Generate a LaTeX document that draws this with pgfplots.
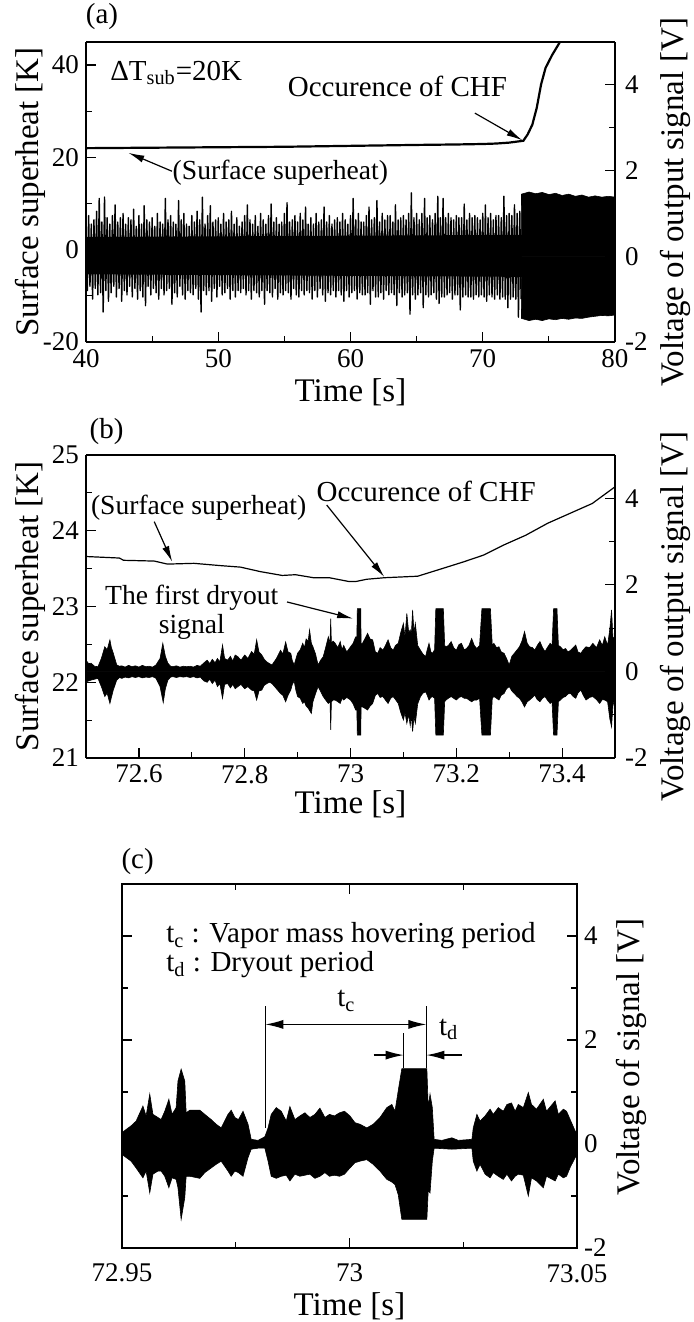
\documentclass[border=0pt]{standalone}
\usepackage{fontspec}
\setmainfont{Liberation Serif}
\usepackage{pgfplots}
\pgfplotsset{compat=1.18}
\usetikzlibrary{arrows.meta}

\newcommand{\ticksz}{\fontsize{13.5}{15}\selectfont}
\newcommand{\labsz}{\fontsize{16.5}{19}\selectfont}
\newcommand{\ann}{\fontsize{14.5}{16}\selectfont}
\newcommand{\annsm}{\fontsize{13.8}{14.5}\selectfont}

\pgfplotsset{
  base/.style={
    scale only axis,
    tick align=inside,
    major tick length=5pt,
    minor tick length=3pt,
    axis line style={line width=0.6pt},
    tick style={line width=0.6pt, black},
    tick label style={font=\ticksz},
    label style={font=\labsz},
    /pgf/number format/assume math mode=true,
    /pgf/number format/fixed,
    /pgf/number format/precision=2,
    scaled ticks=false,
  },
  sig/.style={black, fill=black, line width=0.3pt},
}
\tikzset{arr/.style={line width=0.6pt, -{Latex[length=8pt,width=3.6pt]}}}

\begin{document}
\begin{tikzpicture}
\useasboundingbox (0,0) rectangle (347pt,-661pt);

\node[font=\ann] at (51pt,-8.5pt) {(a)};
\node[font=\ann] at (53.3pt,-216pt) {(b)};
\node[font=\ann] at (68.8pt,-430.8pt) {(c)};

% ---------------- (a) surface superheat, left axis
\begin{axis}[base, at={(43pt,-171pt)}, anchor=south west,
  width=264.5pt, height=150pt,
  xmin=40, xmax=80, ymin=-20, ymax=45,
  axis y line*=left, xtick pos=left,
  xtick={40,50,...,80}, minor xtick={45,55,65,75},
  ytick={-20,0,20,40}, minor ytick={-10,10,30},
  xlabel={Time [s]}, ylabel={Surface superheat [K]},
  xlabel style={at={([yshift=-25pt]axis description cs:0.5,0)}, anchor=center},
  ylabel style={at={([xshift=-28pt]axis description cs:0,0.5)}, anchor=center},
]
\addplot[black, line width=1.1pt] coordinates {
 (40,22.0) (45,22.1) (50,22.2) (55,22.3) (60,22.5) (65,22.7) (68,22.8)
 (70,22.9) (71,23.0) (72,23.2) (73.07,23.6) (73.4,25.0) (73.75,27.1)
 (74.08,30.7) (74.41,35.8) (74.75,39.4) (75.25,42.2) (75.9,45.3) (76.3,46.5)};
\node[font=\ann, anchor=west] at (axis cs:41.3,38.3) {ΔT\textsubscript{sub}=20K};
\node[font=\ann] at (axis cs:63.55,35.4) {Occurence of CHF};
\draw[arr] (axis cs:69.4,29.6) -- (axis cs:73.0,23.7);
\node[font=\annsm] at (axis cs:54.7,16.7) {(Surface superheat)};
\draw[arr] (axis cs:46.5,17.0) -- (axis cs:43.2,21.0);
\end{axis}

% ---------------- (a) output signal, right axis
\begin{axis}[base, at={(43pt,-171pt)}, anchor=south west,
  width=264.5pt, height=150pt,
  xmin=40, xmax=80, ymin=-2, ymax=5,
  axis x line=none, axis y line*=right,
  ytick={-2,0,2,4}, minor ytick={-1,1,3},
  yticklabel style={xshift=1.5pt},
  ylabel={Voltage of output signal [V]},
  ylabel style={at={([xshift=30pt,yshift=-5pt]axis description cs:1,0.5)}, anchor=center},
]
% solid core of the signal before CHF
\addplot[fill=black, draw=none] coordinates {(40,0.45) (72.95,0.50)} \closedcycle;
\addplot[fill=black, draw=none] coordinates {(40,-0.42) (72.95,-0.48)} \closedcycle;
% signal before CHF
\addplot[black, line width=0.7pt, line join=round] coordinates {
 (40.0,0.55)(40.1,-0.80)(40.2,0.95)(40.3,-0.70)(40.4,0.75)(40.5,-1.00)(40.6,0.85)(40.7,-0.75)(40.8,1.05)(40.9,-0.90)
 (41.0,1.35)(41.1,-0.85)(41.2,0.80)(41.3,-1.30)(41.4,1.38)(41.5,-0.80)(41.6,0.90)(41.7,-1.05)(41.8,0.75)(41.9,-0.85)
 (42.0,0.95)(42.1,-0.70)(42.2,1.20)(42.3,-0.95)(42.4,0.80)(42.5,-0.75)(42.6,0.90)(42.7,-1.05)(42.8,1.00)(42.9,-0.80)
 (43.0,0.75)(43.1,-0.90)(43.2,0.90)(43.3,-0.70)(43.4,0.85)(43.5,-0.95)(43.6,1.10)(43.7,-0.75)(43.8,0.70)(43.9,-1.00)
 (44.0,0.95)(44.1,-0.80)(44.2,0.75)(44.3,-0.95)(44.4,1.18)(44.5,-1.15)(44.6,0.85)(44.7,-0.70)(44.8,0.80)(44.9,-0.90)
 (45.0,0.90)(45.1,-0.75)(45.2,0.70)(45.3,-0.85)(45.4,1.00)(45.5,-1.00)(45.6,0.80)(45.7,-0.75)(45.8,0.75)(45.9,-0.90)
 (46.0,1.35)(46.1,-0.80)(46.2,0.85)(46.3,-0.75)(46.4,0.95)(46.5,-1.12)(46.6,0.80)(46.7,-0.85)(46.8,0.75)(46.9,-0.95)
 (47.0,1.30)(47.1,-0.70)(47.2,0.85)(47.3,-0.90)(47.4,1.00)(47.5,-1.00)(47.6,0.75)(47.7,-0.80)(47.8,0.70)(47.9,-0.85)
 (48.0,0.95)(48.1,-0.90)(48.2,0.80)(48.3,-0.75)(48.4,1.05)(48.5,-1.00)(48.6,0.85)(48.7,-1.30)(48.8,1.38)(48.9,-0.80)
 (49.0,0.75)(49.1,-0.90)(49.2,0.95)(49.3,-0.80)(49.4,1.18)(49.5,-1.05)(49.6,0.80)(49.7,-0.75)(49.8,0.85)(49.9,-0.95)
 (50.0,0.90)(50.1,-0.70)(50.2,0.75)(50.3,-0.90)(50.4,1.00)(50.5,-0.85)(50.6,0.80)(50.7,-0.75)(50.8,0.85)(50.9,-1.00)
 (51.0,1.05)(51.1,-0.80)(51.2,0.75)(51.3,-0.95)(51.4,0.90)(51.5,-0.80)(51.6,0.70)(51.7,-0.85)(51.8,0.80)(51.9,-0.75)
 (52.0,0.95)(52.1,-0.90)(52.2,1.20)(52.3,-0.80)(52.4,0.85)(52.5,-1.00)(52.6,0.75)(52.7,-0.80)(52.8,0.95)(52.9,-0.85)
 (53.0,0.70)(53.1,-0.95)(53.2,1.00)(53.3,-0.80)(53.4,0.85)(53.5,-1.12)(53.6,0.75)(53.7,-0.80)(53.8,0.95)(53.9,-0.85)
 (54.0,1.22)(54.1,-0.95)(54.2,0.80)(54.3,-0.75)(54.4,0.90)(54.5,-1.00)(54.6,0.75)(54.7,-0.85)(54.8,0.80)(54.9,-0.90)
 (55.0,1.00)(55.1,-0.80)(55.2,1.25)(55.3,-0.85)(55.4,0.80)(55.5,-1.00)(55.6,0.85)(55.7,-0.75)(55.8,0.95)(55.9,-0.90)
 (56.0,0.80)(56.1,-0.95)(56.2,1.00)(56.3,-0.80)(56.4,0.85)(56.5,-0.90)(56.6,1.15)(56.7,-0.80)(56.8,0.75)(56.9,-0.85)
 (57.0,0.90)(57.1,-1.00)(57.2,0.75)(57.3,-0.80)(57.4,1.00)(57.5,-0.95)(57.6,0.80)(57.7,-0.75)(57.8,0.85)(57.9,-0.90)
 (58.0,1.15)(58.1,-1.05)(58.2,0.80)(58.3,-0.85)(58.4,0.95)(58.5,-0.90)(58.6,0.75)(58.7,-0.80)(58.8,0.85)(58.9,-0.95)
 (59.0,0.90)(59.1,-0.80)(59.2,0.80)(59.3,-0.90)(59.4,1.00)(59.5,-1.05)(59.6,0.85)(59.7,-0.80)(59.8,0.75)(59.9,-0.95)
 (60.0,0.95)(60.1,-0.85)(60.2,1.35)(60.3,-0.80)(60.4,0.85)(60.5,-1.00)(60.6,1.00)(60.7,-0.85)(60.8,0.80)(60.9,-0.90)
 (61.0,0.80)(61.1,-0.90)(61.2,0.95)(61.3,-0.85)(61.4,1.15)(61.5,-1.12)(61.6,0.85)(61.7,-0.80)(61.8,0.90)(61.9,-0.95)
 (62.0,1.30)(62.1,-0.95)(62.2,0.80)(62.3,-0.85)(62.4,1.00)(62.5,-1.00)(62.6,0.85)(62.7,-0.80)(62.8,0.95)(62.9,-0.90)
 (63.0,0.95)(63.1,-0.85)(63.2,0.80)(63.3,-0.90)(63.4,1.20)(63.5,-1.15)(63.6,0.85)(63.7,-0.85)(63.8,0.90)(63.9,-0.95)
 (64.0,0.95)(64.1,-0.90)(64.2,0.85)(64.3,-0.85)(64.4,1.00)(64.5,-1.35)(64.6,1.48)(64.7,-0.90)(64.8,0.90)(64.9,-1.00)
 (65.0,1.00)(65.1,-0.90)(65.2,0.85)(65.3,-0.85)(65.4,1.00)(65.5,-1.20)(65.6,1.35)(65.7,-0.90)(65.8,0.90)(65.9,-0.95)
 (66.0,0.95)(66.1,-0.90)(66.2,0.85)(66.3,-0.85)(66.4,1.00)(66.5,-1.00)(66.6,1.40)(66.7,-1.10)(66.8,0.90)(66.9,-0.95)
 (67.0,1.35)(67.1,-0.95)(67.2,0.90)(67.3,-0.90)(67.4,1.00)(67.5,-0.85)(67.6,0.90)(67.7,-1.00)(67.8,0.85)(67.9,-0.90)
 (68.0,0.95)(68.1,-0.90)(68.2,0.90)(68.3,-1.25)(68.4,0.90)(68.5,-0.95)(68.6,1.22)(68.7,-0.90)(68.8,0.85)(68.9,-0.95)
 (69.0,1.00)(69.1,-0.95)(69.2,0.90)(69.3,-1.00)(69.4,0.95)(69.5,-0.90)(69.6,0.90)(69.7,-0.95)(69.8,0.85)(69.9,-0.90)
 (70.0,1.00)(70.1,-0.95)(70.2,1.20)(70.3,-1.05)(70.4,0.90)(70.5,-0.90)(70.6,1.00)(70.7,-0.95)(70.8,0.85)(70.9,-1.00)
 (71.0,0.95)(71.1,-0.90)(71.2,0.95)(71.3,-1.00)(71.4,0.90)(71.5,-0.95)(71.6,1.40)(71.7,-1.00)(71.8,0.95)(71.9,-1.20)
 (72.0,1.00)(72.1,-1.00)(72.2,0.95)(72.3,-0.95)(72.4,1.20)(72.5,-1.00)(72.6,1.00)(72.7,-1.42)(72.8,1.05)(72.9,-1.00)};
% saturated signal after CHF
\addplot[sig] coordinates {
 (72.92,0.75) (72.93,1.45) (73.50,1.50) (74.00,1.46) (74.50,1.49) (75.00,1.44) (75.50,1.47) (76.00,1.42)
 (76.50,1.45) (77.00,1.40) (77.50,1.43) (78.00,1.38) (78.50,1.41) (79.00,1.38) (79.50,1.40) (80.00,1.38)} \closedcycle;
\addplot[sig] coordinates {
 (72.92,-0.85) (72.93,-1.45) (73.50,-1.50) (74.00,-1.47) (74.50,-1.50) (75.00,-1.46) (75.50,-1.48) (76.00,-1.45)
 (76.50,-1.47) (77.00,-1.44) (77.50,-1.45) (78.00,-1.42) (78.50,-1.40) (79.00,-1.38) (79.50,-1.39) (80.00,-1.37)} \closedcycle;
\end{axis}

% ---------------- (b) surface superheat, left axis
\begin{axis}[base, at={(43pt,-379pt)}, anchor=south west,
  width=264.5pt, height=151.5pt,
  xmin=72.5, xmax=73.5, ymin=21, ymax=25,
  axis y line*=left, xtick pos=left,
  xtick={72.6,72.8,73,73.2,73.4}, minor xtick={72.7,72.9,73.1,73.3},
  ytick={21,22,23,24,25}, minor ytick={21.5,22.5,23.5,24.5},
  xlabel={Time [s]}, ylabel={Surface superheat [K]},
  xlabel style={at={([yshift=-23pt]axis description cs:0.5,0)}, anchor=center},
  ylabel style={at={([xshift=-28pt]axis description cs:0,0.5)}, anchor=center},
]
\addplot[black, line width=0.6pt] coordinates {
 (72.500,23.66) (72.563,23.64) (72.571,23.61) (72.629,23.60) (72.654,23.56) (72.704,23.57)
 (72.754,23.54) (72.792,23.52) (72.830,23.46) (72.871,23.41) (72.896,23.42) (72.930,23.38)
 (72.960,23.38) (72.997,23.33) (73.010,23.33) (73.031,23.36) (73.064,23.38) (73.127,23.40)
 (73.173,23.50) (73.214,23.59) (73.252,23.68) (73.289,23.81) (73.331,23.94) (73.373,24.10)
 (73.415,24.23) (73.457,24.36) (73.500,24.58)};
\node[font=\annsm] at (axis cs:72.713,24.30) {(Surface superheat)};
\draw[arr] (axis cs:72.629,24.12) -- (axis cs:72.663,23.59);
\node[font=\ann] at (axis cs:73.143,24.52) {Occurence of CHF};
\draw[arr] (axis cs:72.955,24.34) -- (axis cs:73.064,23.39);
\node[font=\annsm, align=center] at (axis cs:72.70,22.93) {The first dryout\\signal};
\draw[arr] (axis cs:72.88,23.06) -- (axis cs:73.005,22.84);
\end{axis}

% ---------------- (b) output signal, right axis
\begin{axis}[base, at={(43pt,-379pt)}, anchor=south west,
  width=264.5pt, height=151.5pt,
  xmin=72.5, xmax=73.5, ymin=-2, ymax=5,
  axis x line=none, axis y line*=right,
  ytick={-2,0,2,4}, minor ytick={-1,1,3},
  yticklabel style={xshift=1.5pt},
  ylabel={Voltage of output signal [V]},
  ylabel style={at={([xshift=30pt,yshift=-5pt]axis description cs:1,0.5)}, anchor=center},
]
\addplot[sig] coordinates {
 (72.5000,0.26) (72.5050,0.18) (72.5097,0.19) (72.5160,0.12) (72.5226,0.11) (72.5290,0.30) (72.5355,0.57) (72.5400,0.50)
 (72.5452,0.73) (72.5480,0.55) (72.5516,0.42) (72.5581,0.15) (72.5630,0.12) (72.5677,0.13) (72.5740,0.10) (72.5806,0.14)
 (72.5870,0.11) (72.5935,0.13) (72.6000,0.10) (72.6065,0.14) (72.6130,0.11) (72.6194,0.12) (72.6260,0.10) (72.6323,0.15)
 (72.6400,0.30) (72.6452,0.65) (72.6500,0.35) (72.6548,0.19) (72.6600,0.12) (72.6645,0.11) (72.6710,0.13) (72.6774,0.10)
 (72.6840,0.12) (72.6903,0.11) (72.6970,0.12) (72.7032,0.10) (72.7100,0.14) (72.7161,0.12) (72.7230,0.20) (72.7290,0.26)
 (72.7340,0.18) (72.7387,0.28) (72.7440,0.20) (72.7484,0.30) (72.7530,0.22) (72.7581,0.61) (72.7620,0.30) (72.7677,0.26)
 (72.7730,0.35) (72.7774,0.24) (72.7820,0.38) (72.7871,0.34) (72.7930,0.26) (72.8000,0.38) (72.8060,0.30) (72.8129,0.46)
 (72.8180,0.40) (72.8226,0.73) (72.8270,0.45) (72.8323,0.38) (72.8370,0.28) (72.8419,0.22) (72.8470,0.18) (72.8516,0.15)
 (72.8600,0.30) (72.8677,0.49) (72.8720,0.40) (72.8774,0.68) (72.8820,0.45) (72.8871,0.42) (72.8900,0.25) (72.8935,0.15)
 (72.8970,0.30) (72.9000,0.42) (72.9050,0.50) (72.9097,0.65) (72.9130,0.55) (72.9161,0.75) (72.9200,0.70) (72.9226,0.96)
 (72.9260,0.65) (72.9290,0.57) (72.9340,0.40) (72.9387,0.15) (72.9430,0.25) (72.9484,0.34) (72.9530,0.55) (72.9581,0.80)
 (72.9613,0.65) (72.9626,1.22) (72.9639,0.65) (72.9670,0.70) (72.9710,0.65) (72.9760,0.55) (72.9806,0.69) (72.9840,0.50)
 (72.9871,0.60) (72.9930,0.45) (73.0000,0.57) (73.0050,0.65) (73.0097,0.80) (73.0120,0.80) (73.0129,1.45) (73.0194,1.45)
 (73.0200,0.65) (73.0226,0.65) (73.0270,0.75) (73.0323,0.88) (73.0370,0.75) (73.0419,0.73) (73.0470,0.45) (73.0516,0.42)
 (73.0560,0.55) (73.0613,0.49) (73.0660,0.60) (73.0710,0.73) (73.0760,0.55) (73.0806,0.49) (73.0850,0.60) (73.0903,0.65)
 (73.0950,0.90) (73.1000,1.11) (73.1030,0.80) (73.1065,1.34) (73.1100,0.90) (73.1129,0.96) (73.1150,0.85) (73.1174,1.42)
 (73.1200,0.90) (73.1226,1.11) (73.1270,0.60) (73.1323,0.49) (73.1370,0.40) (73.1419,0.34) (73.1450,0.50) (73.1484,0.65)
 (73.1520,0.45) (73.1548,0.42) (73.1590,0.50) (73.1613,1.45) (73.1755,1.45) (73.1780,0.60) (73.1806,0.57) (73.1850,0.60)
 (73.1903,0.69) (73.1950,0.55) (73.2000,0.49) (73.2050,0.62) (73.2097,0.65) (73.2150,0.50) (73.2194,0.53) (73.2240,0.60)
 (73.2290,0.76) (73.2340,0.60) (73.2387,0.53) (73.2440,0.60) (73.2484,1.45) (73.2645,1.45) (73.2680,0.60) (73.2710,0.65)
 (73.2760,0.55) (73.2806,0.57) (73.2850,0.45) (73.2903,0.42) (73.2950,0.30) (73.3000,0.15) (73.3050,0.35) (73.3097,0.42)
 (73.3150,0.50) (73.3194,0.57) (73.3240,0.70) (73.3290,0.92) (73.3340,0.65) (73.3387,0.57) (73.3440,0.55) (73.3484,0.49)
 (73.3530,0.60) (73.3581,0.69) (73.3630,0.55) (73.3677,0.46) (73.3720,0.55) (73.3774,0.65) (73.3810,0.60) (73.3839,1.45)
 (73.3903,1.45) (73.3930,0.60) (73.3968,0.57) (73.4020,0.50) (73.4065,0.53) (73.4110,0.45) (73.4161,0.49) (73.4210,0.55)
 (73.4258,0.61) (73.4300,0.45) (73.4355,0.42) (73.4400,0.50) (73.4452,0.57) (73.4520,0.55) (73.4581,0.65) (73.4650,0.55)
 (73.4710,0.73) (73.4760,0.60) (73.4806,0.80) (73.4860,0.60) (73.4903,0.99) (73.4935,1.42) (73.4960,0.80) (73.5000,0.73)} \closedcycle;
\addplot[sig] coordinates {
 (72.5000,-0.24) (72.5050,-0.22) (72.5097,-0.20) (72.5160,-0.18) (72.5226,-0.16) (72.5290,-0.35) (72.5355,-0.58) (72.5400,-0.50)
 (72.5452,-0.74) (72.5480,-0.60) (72.5516,-0.43) (72.5581,-0.20) (72.5630,-0.14) (72.5677,-0.16) (72.5740,-0.13) (72.5806,-0.15)
 (72.5870,-0.12) (72.5935,-0.14) (72.6000,-0.12) (72.6065,-0.15) (72.6130,-0.13) (72.6194,-0.14) (72.6260,-0.12) (72.6323,-0.16)
 (72.6400,-0.35) (72.6460,-0.72) (72.6500,-0.40) (72.6548,-0.20) (72.6600,-0.13) (72.6645,-0.12) (72.6710,-0.14) (72.6774,-0.12)
 (72.6840,-0.13) (72.6903,-0.12) (72.6970,-0.14) (72.7032,-0.12) (72.7100,-0.15) (72.7161,-0.13) (72.7230,-0.22) (72.7290,-0.25)
 (72.7340,-0.18) (72.7387,-0.28) (72.7440,-0.20) (72.7484,-0.35) (72.7530,-0.28) (72.7581,-0.62) (72.7620,-0.30) (72.7677,-0.28)
 (72.7730,-0.38) (72.7774,-0.30) (72.7820,-0.40) (72.7871,-0.35) (72.7930,-0.30) (72.8000,-0.40) (72.8060,-0.35) (72.8129,-0.43)
 (72.8180,-0.45) (72.8226,-0.66) (72.8270,-0.45) (72.8323,-0.43) (72.8370,-0.32) (72.8419,-0.28) (72.8470,-0.25) (72.8516,-0.28)
 (72.8600,-0.40) (72.8677,-0.51) (72.8720,-0.55) (72.8774,-0.70) (72.8820,-0.55) (72.8871,-0.43) (72.8900,-0.30) (72.8935,-0.22)
 (72.8970,-0.45) (72.9000,-0.58) (72.9050,-0.62) (72.9097,-0.74) (72.9130,-0.70) (72.9161,-0.80) (72.9200,-0.85) (72.9260,-0.97)
 (72.9290,-0.70) (72.9340,-0.51) (72.9387,-0.35) (72.9430,-0.45) (72.9484,-0.58) (72.9530,-0.66) (72.9581,-0.74) (72.9613,-0.70)
 (72.9626,-1.35) (72.9639,-0.70) (72.9670,-0.66) (72.9710,-0.66) (72.9760,-0.70) (72.9806,-0.74) (72.9840,-0.62) (72.9871,-0.66)
 (72.9930,-0.60) (73.0000,-0.66) (73.0050,-0.75) (73.0097,-0.89) (73.0120,-0.89) (73.0129,-1.47) (73.0194,-1.47) (73.0200,-0.82)
 (73.0226,-0.82) (73.0270,-0.85) (73.0323,-0.89) (73.0370,-0.80) (73.0419,-0.74) (73.0470,-0.55) (73.0516,-0.51) (73.0560,-0.60)
 (73.0613,-0.58) (73.0660,-0.66) (73.0710,-0.74) (73.0760,-0.62) (73.0806,-0.58) (73.0850,-0.65) (73.0903,-0.74) (73.0950,-0.95)
 (73.1000,-1.12) (73.1030,-0.95) (73.1065,-1.20) (73.1100,-1.00) (73.1129,-1.25) (73.1150,-1.00) (73.1174,-1.39) (73.1200,-1.05)
 (73.1226,-1.20) (73.1270,-0.75) (73.1323,-0.58) (73.1370,-0.50) (73.1419,-0.47) (73.1450,-0.55) (73.1484,-0.66) (73.1520,-0.60)
 (73.1548,-0.58) (73.1590,-0.62) (73.1613,-1.47) (73.1755,-1.47) (73.1780,-0.70) (73.1806,-0.66) (73.1850,-0.62) (73.1903,-0.58)
 (73.1950,-0.62) (73.2000,-0.66) (73.2050,-0.60) (73.2097,-0.58) (73.2150,-0.62) (73.2194,-0.62) (73.2240,-0.66) (73.2290,-0.70)
 (73.2340,-0.66) (73.2387,-0.66) (73.2440,-0.62) (73.2484,-1.47) (73.2645,-1.47) (73.2680,-0.62) (73.2710,-0.58) (73.2760,-0.62)
 (73.2806,-0.66) (73.2850,-0.55) (73.2903,-0.51) (73.2950,-0.40) (73.3000,-0.35) (73.3050,-0.45) (73.3097,-0.51) (73.3150,-0.58)
 (73.3194,-0.62) (73.3240,-0.70) (73.3290,-0.82) (73.3340,-0.70) (73.3387,-0.66) (73.3440,-0.60) (73.3484,-0.55) (73.3530,-0.65)
 (73.3581,-0.70) (73.3630,-0.62) (73.3677,-0.58) (73.3720,-0.66) (73.3774,-0.74) (73.3810,-0.70) (73.3839,-1.47) (73.3903,-1.47)
 (73.3930,-0.70) (73.3968,-0.66) (73.4020,-0.60) (73.4065,-0.58) (73.4110,-0.52) (73.4161,-0.51) (73.4210,-0.58) (73.4258,-0.62)
 (73.4300,-0.50) (73.4355,-0.43) (73.4400,-0.55) (73.4452,-0.66) (73.4520,-0.60) (73.4581,-0.58) (73.4650,-0.65) (73.4710,-0.74)
 (73.4760,-0.65) (73.4806,-0.66) (73.4860,-0.70) (73.4903,-1.10) (73.4935,-1.28) (73.4960,-0.80) (73.5000,-0.58)} \closedcycle;
\end{axis}

% ---------------- (c) signal only
\begin{axis}[base, at={(61pt,-624pt)}, anchor=south west,
  width=227.5pt, height=182pt,
  xmin=72.95, xmax=73.05, ymin=-2, ymax=5,
  xtick={72.95,73,73.05}, minor xtick={72.975,73.025},
  ytick={-2,0,2,4}, minor ytick={-1,1,3},
  yticklabel pos=right,
  xticklabel style={yshift=-4.5pt},
  xlabel={Time [s]}, ylabel={Voltage of signal [V]},
  xlabel style={at={([yshift=-29pt]axis description cs:0.5,0)}, anchor=center},
  ylabel style={at={([xshift=27pt,yshift=4.5pt]axis description cs:1,0.5)}, anchor=center},
]
\addplot[sig] coordinates {
 (72.9500,0.22) (72.9520,0.35) (72.9531,0.44) (72.9546,0.73) (72.9553,0.54) (72.9561,0.96) (72.9568,0.57) (72.9579,0.51)
 (72.9586,0.47) (72.9594,0.63) (72.9603,0.86) (72.9610,0.57) (72.9619,0.70) (72.9623,1.21) (72.9630,1.44) (72.9638,1.21)
 (72.9641,0.60) (72.9649,0.65) (72.9671,0.65) (72.9682,0.57) (72.9696,0.47) (72.9707,0.38) (72.9718,0.31) (72.9733,0.57)
 (72.9740,0.65) (72.9748,0.51) (72.9756,0.47) (72.9766,0.63) (72.9777,0.38) (72.9784,0.09) (72.9799,0.07) (72.9814,0.14)
 (72.9821,0.31) (72.9828,0.57) (72.9839,0.70) (72.9850,0.63) (72.9861,0.44) (72.9869,0.72) (72.9880,0.47) (72.9891,0.54)
 (72.9902,0.60) (72.9913,0.51) (72.9924,0.57) (72.9935,0.69) (72.9946,0.51) (72.9956,0.57) (72.9967,0.54) (72.9978,0.60)
 (72.9989,0.63) (73.0001,0.54) (73.0012,0.41) (73.0023,0.38) (73.0038,0.31) (73.0052,0.38) (73.0067,0.51) (73.0082,0.70)
 (73.0093,0.76) (73.0100,0.63) (73.0107,1.02) (73.0115,1.45) (73.0170,1.45) (73.0173,0.70) (73.0177,0.96) (73.0182,0.70)
 (73.0186,0.09) (73.0203,0.07) (73.0225,0.12) (73.0239,0.07) (73.0269,0.09) (73.0272,0.31) (73.0280,0.57) (73.0287,0.44)
 (73.0298,0.54) (73.0309,0.67) (73.0316,0.57) (73.0327,0.70) (73.0338,0.63) (73.0346,0.76) (73.0356,0.79) (73.0364,0.63)
 (73.0371,0.76) (73.0382,0.70) (73.0393,0.99) (73.0400,0.76) (73.0411,0.67) (73.0426,0.86) (73.0433,0.63) (73.0452,0.83)
 (73.0459,0.57) (73.0470,0.67) (73.0477,0.63) (73.0485,0.47) (73.0496,0.25) (73.0500,0.22)} \closedcycle;
\addplot[sig] coordinates {
 (72.9500,-0.20) (72.9520,-0.33) (72.9531,-0.46) (72.9546,-0.65) (72.9553,-0.52) (72.9561,-0.94) (72.9568,-0.58) (72.9579,-0.52)
 (72.9586,-0.52) (72.9594,-0.62) (72.9603,-0.84) (72.9610,-0.65) (72.9619,-0.68) (72.9623,-0.84) (72.9630,-1.45) (72.9638,-1.03)
 (72.9641,-0.62) (72.9649,-0.62) (72.9671,-0.66) (72.9682,-0.55) (72.9696,-0.46) (72.9707,-0.39) (72.9718,-0.33) (72.9733,-0.52)
 (72.9740,-0.62) (72.9748,-0.52) (72.9756,-0.55) (72.9766,-0.62) (72.9777,-0.26) (72.9784,-0.10) (72.9799,-0.08) (72.9814,-0.08)
 (72.9821,-0.33) (72.9828,-0.62) (72.9839,-0.66) (72.9850,-0.62) (72.9861,-0.60) (72.9869,-0.71) (72.9880,-0.58) (72.9891,-0.62)
 (72.9902,-0.60) (72.9913,-0.58) (72.9924,-0.66) (72.9935,-0.62) (72.9946,-0.55) (72.9956,-0.62) (72.9967,-0.60) (72.9978,-0.62)
 (72.9989,-0.58) (73.0001,-0.46) (73.0012,-0.36) (73.0023,-0.33) (73.0038,-0.30) (73.0052,-0.39) (73.0067,-0.52) (73.0082,-0.68)
 (73.0093,-0.73) (73.0100,-0.78) (73.0107,-0.97) (73.0115,-1.45) (73.0170,-1.45) (73.0173,-0.90) (73.0177,-0.94) (73.0182,-0.33)
 (73.0186,-0.08) (73.0225,-0.10) (73.0269,-0.08) (73.0272,-0.33) (73.0280,-0.52) (73.0287,-0.39) (73.0298,-0.58) (73.0309,-0.65)
 (73.0316,-0.55) (73.0327,-0.62) (73.0338,-0.68) (73.0346,-0.58) (73.0356,-0.71) (73.0364,-0.62) (73.0371,-0.58) (73.0382,-0.60)
 (73.0393,-1.00) (73.0400,-0.65) (73.0411,-0.71) (73.0426,-0.84) (73.0433,-0.62) (73.0452,-0.71) (73.0459,-0.58) (73.0470,-0.65)
 (73.0477,-0.62) (73.0485,-0.45) (73.0496,-0.26) (73.0500,-0.22)} \closedcycle;
\node[font=\ann, anchor=base west] at (axis cs:72.9582,3.87) {t\textsubscript{c} : Vapor mass hovering period};
\node[font=\ann, anchor=base west] at (axis cs:72.9582,3.31) {t\textsubscript{d} : Dryout period};
\draw[line width=0.6pt] (axis cs:72.9815,0.31) -- (axis cs:72.9815,2.65);
\draw[line width=0.6pt] (axis cs:73.0169,1.47) -- (axis cs:73.0169,2.65);
\draw[line width=0.6pt] (axis cs:73.0119,1.47) -- (axis cs:73.0119,2.14);
\draw[line width=0.6pt, {Latex[length=9pt,width=4.5pt]}-{Latex[length=9pt,width=4.5pt]}]
  (axis cs:72.9815,2.30) -- (axis cs:73.0169,2.30);
\node[font=\ann] at (axis cs:72.9993,2.75) {t\textsubscript{c}};
\draw[line width=0.6pt, -{Latex[length=9pt,width=4.5pt]}] (axis cs:73.0053,1.71) -- (axis cs:73.0119,1.71);
\draw[line width=0.6pt, -{Latex[length=9pt,width=4.5pt]}] (axis cs:73.0247,1.71) -- (axis cs:73.0169,1.71);
\node[font=\ann] at (axis cs:73.0218,2.21) {t\textsubscript{d}};
\end{axis}
\end{tikzpicture}
\end{document}
